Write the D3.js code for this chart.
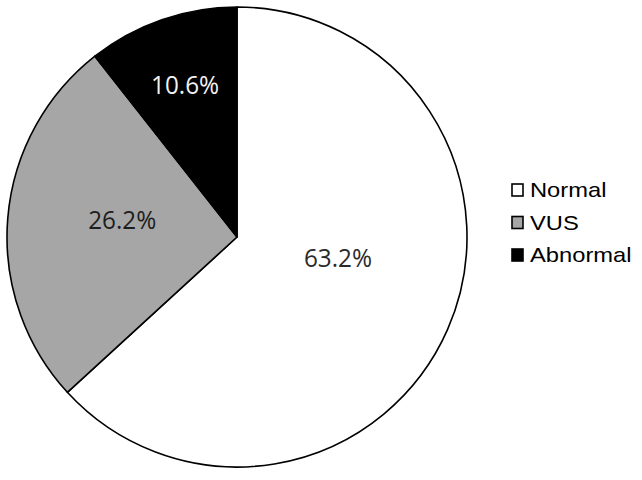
<!DOCTYPE html>
<html>
<head>
<meta charset="utf-8">
<script src="https://cdn.jsdelivr.net/npm/d3@7"></script>
<style>
  html, body { margin: 0; padding: 0; background: #fff; }
  svg { display: block; }
</style>
</head>
<body>
<svg id="chart" width="642" height="480"></svg>
<script>
// ---- data ----
const categories = ["Normal", "VUS", "Abnormal"];
const values = [63.2, 26.2, 10.6];
const labels = ["63.2%", "26.2%", "10.6%"];

// ---- style ----
const fills = ["#ffffff", "#a6a6a6", "#000000"];
const labelColors = ["#2a2a2a", "#1e1e1e", "#f2f2f2"];
// label placement relative to pie centre, as fractions of radius (x, y)
const labelOffsets = [[0.439, 0.087], [-0.499, -0.078], [-0.226, -0.665]];

const svg = d3.select("#chart");
const cx = 237, cy = 237, r = 230;

const pie = d3.pie().sort(null).value(d => d)(values);
const arc = d3.arc().innerRadius(0).outerRadius(r);

const g = svg.append("g").attr("transform", `translate(${cx},${cy})`);

g.selectAll("path.slice")
  .data(pie)
  .join("path")
  .attr("class", "slice")
  .attr("d", arc)
  .attr("fill", (d, i) => fills[i])
  .attr("stroke", "#000")
  .attr("stroke-width", 1.6)
  .attr("stroke-linejoin", "round");

g.selectAll("text.lbl")
  .data(pie)
  .join("text")
  .attr("class", "lbl")
  .attr("x", (d, i) => labelOffsets[i][0] * r)
  .attr("y", (d, i) => labelOffsets[i][1] * r)
  .attr("text-anchor", "middle")
  .attr("dominant-baseline", "central")
  .attr("font-family", "'Open Sans', 'DejaVu Sans', sans-serif")
  .attr("font-size", 26)
  .attr("textLength", 68)
  .attr("lengthAdjust", "spacingAndGlyphs")
  .attr("fill", (d, i) => labelColors[i])
  .text((d, i) => labels[i]);

// ---- legend ----
const legendY = d3.scalePoint().domain(categories).range([190, 255]);
const leg = svg.append("g");
const items = leg.selectAll("g.item")
  .data(categories)
  .join("g")
  .attr("class", "item")
  .attr("transform", d => `translate(512,${legendY(d)})`);

items.append("rect")
  .attr("x", 0).attr("y", -6)
  .attr("width", 11).attr("height", 12)
  .attr("fill", (d, i) => fills[i])
  .attr("stroke", "#000")
  .attr("stroke-width", 1.6);

items.append("text")
  .attr("x", 18)
  .attr("y", 7)
  .attr("font-family", "'Liberation Sans', Arial, sans-serif")
  .attr("font-size", 21)
  .attr("fill", "#000")
  .attr("transform", "translate(18,0) scale(1.13,1) translate(-18,0)")
  .text(d => d);
</script>
</body>
</html>
